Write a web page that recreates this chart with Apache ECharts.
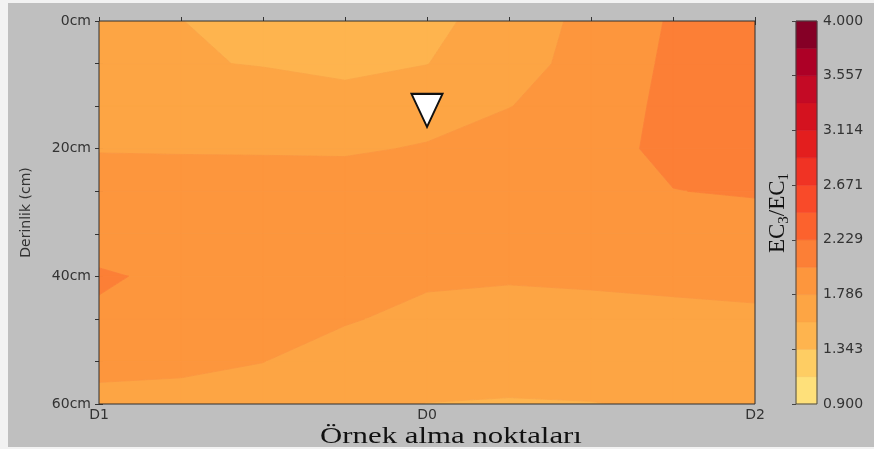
<!DOCTYPE html>
<html>
<head>
<meta charset="utf-8">
<title>EC3/EC1 profili</title>
<script src="https://cdn.jsdelivr.net/npm/echarts@6/dist/echarts.min.js"></script>
<style>
  html, body { margin: 0; padding: 0; background: #f2f2f2; }
  #frame { position: absolute; left: 8px; top: 3px; width: 866px; height: 444px; background: #bfbfbf; }
  #chart { position: absolute; left: 0; top: 0; width: 874px; height: 449px; }
</style>
</head>
<body>
<div id="frame"></div>
<div id="chart"></div>
<script>
// Sampling stations along the transect (D1 ... D0 ... D2)
const xStations = [0, 1, 2, 3, 4, 5, 6, 7, 8];
const stationLabels = ['D1', '', '', '', 'D0', '', '', '', 'D2'];
const labelledStations = [0, 4, 8];

// Sampling depths (cm)
const depthsCm = [0, 6.67, 13.33, 20, 26.67, 33.33, 40, 46.67, 53.33, 60];
const labelledDepths = [0, 20, 40, 60];

// EC3/EC1 ratio, one row per depth, one column per station
const ratioDepth0  = [1.70, 1.57, 1.42, 1.40, 1.48, 1.707, 1.825, 2.032, 2.15];
const ratioDepth1  = [1.70, 1.586, 1.55, 1.45, 1.56, 1.705, 1.861, 2.048, 2.15];
const ratioDepth2  = [1.72, 1.70, 1.72, 1.742, 1.70, 1.78, 1.90, 2.057, 2.14];
const ratioDepth3  = [1.77, 1.765, 1.765, 1.76, 1.802, 1.90, 1.92, 2.067, 2.12];
const ratioDepth4  = [1.93, 1.92, 1.90, 1.90, 1.93, 1.95, 1.95, 2.002, 2.03];
const ratioDepth5  = [1.835, 1.92, 1.93, 1.93, 1.93, 1.93, 1.93, 1.90, 1.886];
const ratioDepth6  = [2.05, 1.93, 1.92, 1.90, 1.83, 1.81, 1.82, 1.83, 1.84];
const ratioDepth7  = [1.952, 1.93, 1.88, 1.81, 1.711, 1.69, 1.714, 1.738, 1.754];
const ratioDepth8  = [1.85, 1.84, 1.79, 1.66, 1.68, 1.70, 1.70, 1.71, 1.72];
const ratioDepth9  = [1.72, 1.70, 1.66, 1.62, 1.56, 1.54, 1.555, 1.60, 1.64];
const ratioGrid = [ratioDepth0, ratioDepth1, ratioDepth2, ratioDepth3, ratioDepth4,
                   ratioDepth5, ratioDepth6, ratioDepth7, ratioDepth8, ratioDepth9];

// Filled contour levels and their colours (YlOrRd)
const contourLevels = [0.900, 1.121, 1.343, 1.564, 1.786, 2.007, 2.229, 2.450,
                       2.671, 2.893, 3.114, 3.336, 3.557, 3.779, 4.000];
const bandColors = ['#fee07a', '#fecd63', '#feb44e', '#fda544', '#fd963d', '#fc7f36',
                    '#fc622d', '#f94a29', '#f03324', '#e31e1e', '#d4121f', '#c40a25',
                    '#ad0026', '#850026'];
const colorbarTicks = [0.900, 1.343, 1.786, 2.229, 2.671, 3.114, 3.557, 4.000];

// Reference point marker (station, depth)
const markerPoints = [[4, 14]];

// Clip a polygon (vertices carry a value v) to v >= t or v <= t, values linear along edges
function clipByValue(poly, t, keepAbove) {
  const out = [];
  for (let k = 0; k < poly.length; k++) {
    const a = poly[k], b = poly[(k + 1) % poly.length];
    const ina = keepAbove ? a.v >= t : a.v <= t;
    const inb = keepAbove ? b.v >= t : b.v <= t;
    if (ina) out.push(a);
    if (ina !== inb) {
      const f = (t - a.v) / (b.v - a.v);
      out.push({ x: a.x + f * (b.x - a.x), y: a.y + f * (b.y - a.y), v: t });
    }
  }
  return out;
}

const cells = [];
for (let j = 0; j < depthsCm.length - 1; j++) {
  for (let i = 0; i < xStations.length - 1; i++) {
    cells.push([xStations[i], depthsCm[j], i, j]);
  }
}

function renderCell(params, api) {
  const i = api.value(2), j = api.value(3);
  const corners = [[i, j], [i + 1, j], [i + 1, j + 1], [i, j + 1]].map(function (c) {
    const p = api.coord([xStations[c[0]], depthsCm[c[1]]]);
    return { x: p[0], y: p[1], v: ratioGrid[c[1]][c[0]] };
  });
  const children = [];
  for (let k = 0; k < bandColors.length; k++) {
    const lo = contourLevels[k], hi = contourLevels[k + 1];
    let poly = clipByValue(corners, lo, true);
    if (poly.length < 3) continue;
    poly = clipByValue(poly, hi, false);
    if (poly.length < 3) continue;
    children.push({
      type: 'polygon',
      shape: { points: poly.map(function (p) { return [p.x, p.y]; }) },
      style: { fill: bandColors[k], stroke: bandColors[k], lineWidth: 0.8 }
    });
  }
  return { type: 'group', children: children };
}

function renderBand(params, api) {
  const k = api.value(2);
  const p0 = api.coord([0, contourLevels[k]]);
  const p1 = api.coord([1, contourLevels[k + 1]]);
  return {
    type: 'rect',
    shape: { x: p0[0], y: p1[1], width: p1[0] - p0[0], height: p0[1] - p1[1] },
    style: { fill: bandColors[k], stroke: bandColors[k], lineWidth: 0.5 }
  };
}

const bandData = bandColors.map(function (c, k) {
  return [0.5, (contourLevels[k] + contourLevels[k + 1]) / 2, k];
});

const tickFont = { fontFamily: 'DejaVu Sans', fontSize: 14, color: '#333' };

const chart = echarts.init(document.getElementById('chart'), null, { renderer: 'canvas' });
chart.setOption({
  backgroundColor: 'transparent',
  animation: false,
  grid: [
    { left: 99, top: 21, width: 656, height: 383, show: true,
      borderColor: '#2e2e2e', borderWidth: 1, backgroundColor: 'transparent', z: 5 },
    { left: 796, top: 21, width: 21, height: 383, show: true,
      borderColor: '#444', borderWidth: 1, backgroundColor: 'transparent', z: 5 }
  ],
  xAxis: [
    { gridIndex: 0, type: 'value', min: 0, max: 8, position: 'bottom',
      axisLine: { show: false }, splitLine: { show: false },
      axisTick: { inside: true, length: 4, customValues: xStations, lineStyle: { color: '#333' } },
      axisLabel: Object.assign({ customValues: labelledStations, margin: 4,
        showMinLabel: true, showMaxLabel: true,
        formatter: function (v) { return stationLabels[Math.round(v)]; } }, tickFont) },
    { gridIndex: 0, type: 'value', min: 0, max: 8, position: 'top',
      axisLine: { show: false }, splitLine: { show: false },
      axisTick: { inside: true, length: 4, customValues: xStations, lineStyle: { color: '#333' } },
      axisLabel: { show: false } },
    { gridIndex: 1, type: 'value', min: 0, max: 1, show: false }
  ],
  yAxis: [
    { gridIndex: 0, type: 'value', min: 0, max: 60, inverse: true, position: 'left',
      axisLine: { show: false }, splitLine: { show: false },
      axisTick: { inside: true, length: 4, customValues: depthsCm, lineStyle: { color: '#333' } },
      axisLabel: Object.assign({ customValues: labelledDepths, margin: 8,
        showMinLabel: true, showMaxLabel: true,
        formatter: function (v) { return Math.round(v) + 'cm'; } }, tickFont),
      name: 'Derinlik (cm)', nameLocation: 'middle', nameRotate: 90, nameGap: 66,
      nameTextStyle: { fontFamily: 'DejaVu Sans', fontSize: 14, color: '#333' } },
    { gridIndex: 0, type: 'value', min: 0, max: 60, inverse: true, position: 'right',
      axisLine: { show: false }, splitLine: { show: false },
      axisTick: { inside: true, length: 4, customValues: depthsCm, lineStyle: { color: '#333' } },
      axisLabel: { show: false } },
    { gridIndex: 1, type: 'value', min: 0.9, max: 4.0, position: 'right',
      axisLine: { show: false }, splitLine: { show: false },
      axisTick: { inside: true, length: 4, customValues: colorbarTicks, lineStyle: { color: '#444' } },
      axisLabel: Object.assign({ customValues: colorbarTicks, margin: 6,
        showMinLabel: true, showMaxLabel: true,
        formatter: function (v) { return v.toFixed(3); } }, tickFont) }
  ],
  series: [
    { type: 'custom', name: 'EC3/EC1', xAxisIndex: 0, yAxisIndex: 0,
      renderItem: renderCell, data: cells, encode: { x: 0, y: 1 }, clip: true, z: 1 },
    { type: 'scatter', xAxisIndex: 0, yAxisIndex: 0, data: markerPoints,
      symbol: 'triangle', symbolRotate: 180, symbolSize: [31, 33],
      itemStyle: { color: '#ffffff', opacity: 1, borderColor: '#111', borderWidth: 2 }, z: 10 },
    { type: 'custom', name: 'colorbar', xAxisIndex: 2, yAxisIndex: 2,
      renderItem: renderBand, data: bandData, encode: { x: 0, y: 1 }, z: 1 }
  ],
  graphic: [
    { type: 'text', x: 451, y: 437, scaleX: 1.34, silent: true,
      style: { text: 'Örnek alma noktaları', fontFamily: 'Liberation Serif', fontSize: 23,
        fill: '#111', align: 'center', verticalAlign: 'middle' } },
    { type: 'text', x: 778, y: 213, rotation: Math.PI / 2, silent: true,
      style: { text: '{m|EC}{s|3}{m|/EC}{s|1}', align: 'center', verticalAlign: 'middle',
        fill: '#111',
        rich: {
          m: { fontFamily: 'Liberation Serif', fontSize: 23, lineHeight: 28, fill: '#111' },
          s: { fontFamily: 'Liberation Serif', fontSize: 15, lineHeight: 15,
               verticalAlign: 'bottom', fill: '#111' }
        } } }
  ]
});
</script>
</body>
</html>
